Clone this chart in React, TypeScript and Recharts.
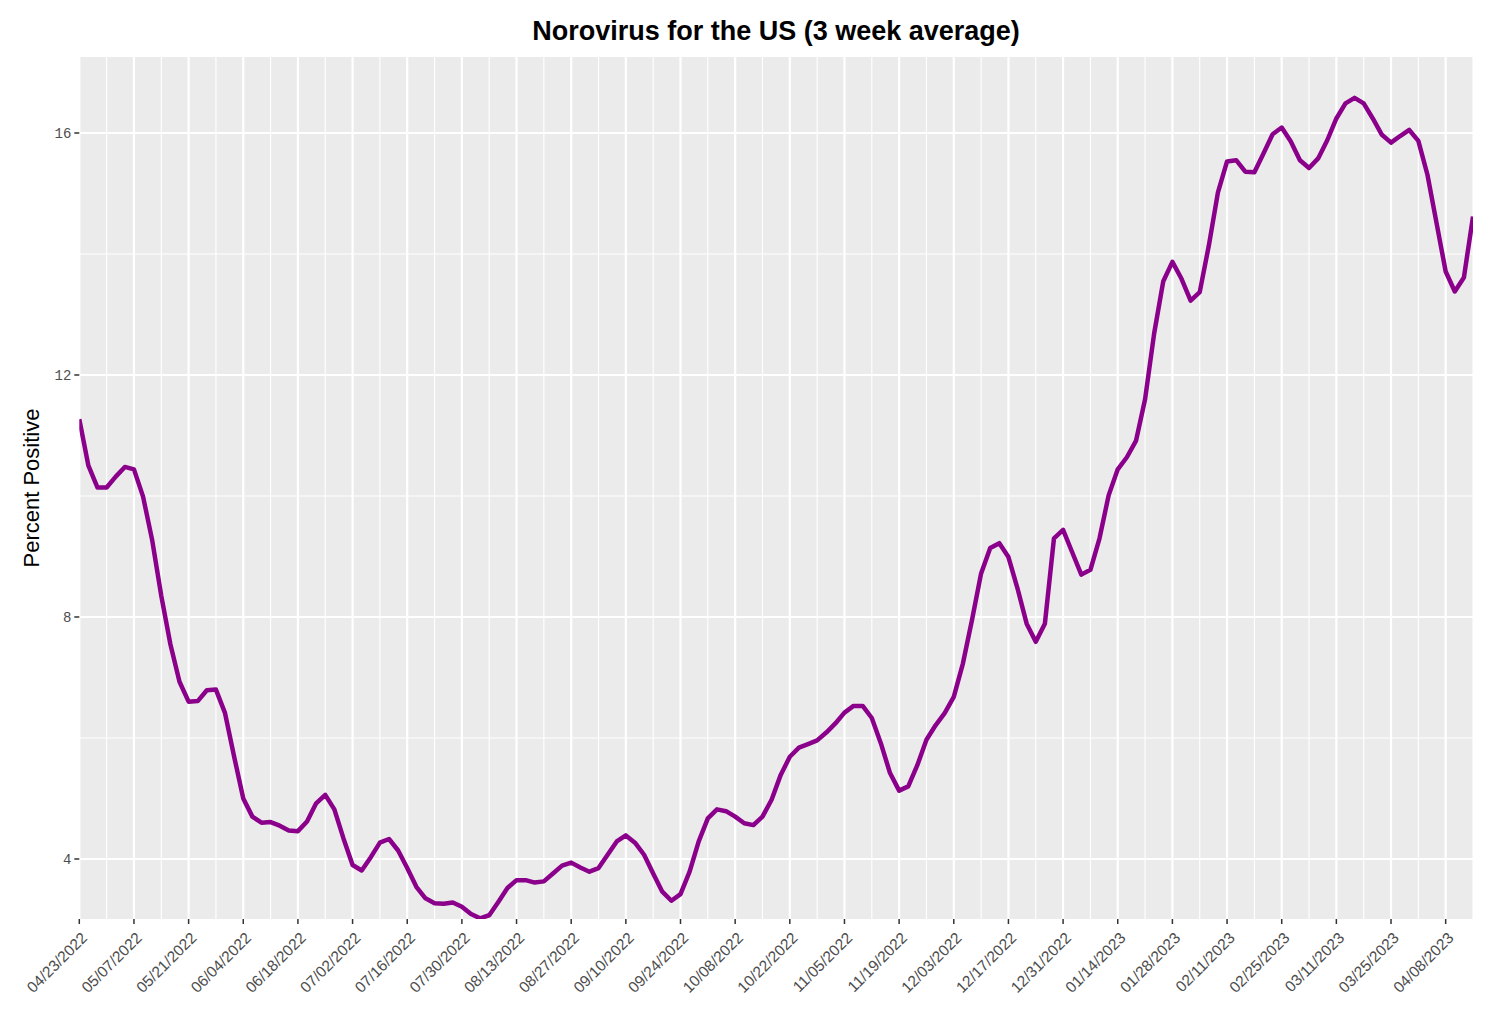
import React from 'react';
import { LineChart, Line, XAxis, YAxis, CartesianGrid } from 'recharts';

// Percent positive, three samples per week starting 04/23/2022
const percentPositive: number[] = [
  11.27, 10.5, 10.14, 10.14, 10.32, 10.48, 10.44, 9.99, 9.27, 8.35,
  7.55, 6.93, 6.6, 6.61, 6.79, 6.8, 6.41, 5.69, 5.0, 4.7,
  4.6, 4.61, 4.55, 4.47, 4.46, 4.62, 4.92, 5.06, 4.82, 4.34,
  3.9, 3.81, 4.03, 4.27, 4.33, 4.14, 3.85, 3.54, 3.35, 3.27,
  3.26, 3.28, 3.21, 3.09, 3.02, 3.07, 3.29, 3.52, 3.65, 3.65,
  3.61, 3.63, 3.76, 3.89, 3.94, 3.86, 3.79, 3.85, 4.07, 4.29,
  4.39, 4.27, 4.07, 3.76, 3.46, 3.31, 3.42, 3.79, 4.29, 4.67,
  4.82, 4.79, 4.7, 4.59, 4.56, 4.7, 4.98, 5.39, 5.69, 5.84,
  5.9, 5.96, 6.09, 6.24, 6.42, 6.53, 6.53, 6.33, 5.91, 5.42,
  5.13, 5.2, 5.55, 5.97, 6.21, 6.41, 6.68, 7.23, 7.95, 8.72,
  9.14, 9.22, 8.99, 8.47, 7.89, 7.59, 7.89, 9.3, 9.44, 9.07,
  8.7, 8.78, 9.3, 10.01, 10.44, 10.64, 10.91, 11.6, 12.69, 13.55,
  13.87, 13.59, 13.23, 13.37, 14.14, 15.02, 15.53, 15.55, 15.36, 15.35,
  15.66, 15.98, 16.09, 15.86, 15.55, 15.42, 15.58, 15.88, 16.24, 16.49,
  16.58, 16.49, 16.24, 15.97, 15.84, 15.95, 16.05, 15.87, 15.31, 14.51,
  13.71, 13.38, 13.61, 14.62,
];

const xTickLabels: string[] = [
  '04/23/2022', '05/07/2022', '05/21/2022', '06/04/2022', '06/18/2022',
  '07/02/2022', '07/16/2022', '07/30/2022', '08/13/2022', '08/27/2022',
  '09/10/2022', '09/24/2022', '10/08/2022', '10/22/2022', '11/05/2022',
  '11/19/2022', '12/03/2022', '12/17/2022', '12/31/2022', '01/14/2023',
  '01/28/2023', '02/11/2023', '02/25/2023', '03/11/2023', '03/25/2023',
  '04/08/2023',
];

const xTickIdx: number[] = [
  0, 6, 12, 18, 24, 30, 36, 42, 48, 54, 60, 66, 72, 78, 84, 90, 96, 102,
  108, 114, 120, 126, 132, 138, 144, 150,
];
const xMinorIdx: number[] = [
  3, 9, 15, 21, 27, 33, 39, 45, 51, 57, 63, 69, 75, 81, 87, 93, 99, 105,
  111, 117, 123, 129, 135, 141, 147, 153,
];
const yTicks: number[] = [4, 8, 12, 16];
const yMinor: number[] = [6, 10, 14];

const data = percentPositive.map((v, i) => ({ idx: i, value: v }));

const XTick = (props: any) => {
  const { x, y, payload } = props;
  const k = xTickIdx.indexOf(payload.value);
  return (
    <g transform={`translate(${x + 1},${y + 5})`}>
      <text
        x={0}
        y={0}
        dy="0.72em"
        textAnchor="end"
        transform="rotate(-45)"
        fill="#4D4D4D"
        fontSize={15.5}
        fontFamily="'Liberation Sans', Arial, Helvetica, sans-serif"
      >
        {k >= 0 ? xTickLabels[k] : ''}
      </text>
    </g>
  );
};

export default function App() {
  return (
    <div style={{ position: 'absolute', left: 0, top: 0, width: 1506, height: 1026, background: '#fff' }}>
      <LineChart
        width={1506}
        height={1026}
        data={data}
        margin={{ top: 57, right: 33, bottom: 27, left: 0 }}
      >
        <CartesianGrid
          fill="#EBEBEB"
          stroke="#FFFFFF"
          strokeWidth={1.1}
          horizontalValues={yMinor}
          verticalValues={xMinorIdx}
        />
        <CartesianGrid
          stroke="#FFFFFF"
          strokeWidth={2.2}
          horizontalValues={yTicks}
          verticalValues={xTickIdx}
        />
        <XAxis
          type="number"
          dataKey="idx"
          domain={[0, 153]}
          ticks={xTickIdx}
          interval={0}
          allowDataOverflow
          height={80}
          tickSize={5}
          tickLine={{ stroke: '#333333', strokeWidth: 1.5 }}
          axisLine={false}
          tick={<XTick />}
        />
        <YAxis
          type="number"
          domain={[3.008, 17.256]}
          ticks={yTicks}
          interval={0}
          allowDataOverflow
          width={79.3}
          tickSize={5}
          tickMargin={3}
          tickLine={{ stroke: '#333333', strokeWidth: 1.5 }}
          axisLine={false}
          tick={{ fill: '#4D4D4D', fontSize: 14, fontFamily: "'Liberation Mono', 'DejaVu Sans Mono', monospace" }}
        />
        <Line
          type="linear"
          dataKey="value"
          stroke="#8B008B"
          strokeWidth={4.5}
          strokeLinejoin="round"
          dot={false}
          activeDot={false}
          isAnimationActive={false}
        />
      </LineChart>
      <svg
        width={1506}
        height={1026}
        style={{ position: 'absolute', left: 0, top: 0, pointerEvents: 'none' }}
      >
        <text
          x={776}
          y={40}
          textAnchor="middle"
          fontSize={27}
          fontWeight="bold"
          fill="#000"
          fontFamily="'Liberation Sans', Arial, Helvetica, sans-serif"
        >
          Norovirus for the US (3 week average)
        </text>
        <text
          x={39}
          y={488}
          textAnchor="middle"
          transform="rotate(-90 39 488)"
          fontSize={22}
          fill="#000"
          fontFamily="'Liberation Sans', Arial, Helvetica, sans-serif"
        >
          Percent Positive
        </text>
      </svg>
    </div>
  );
}
